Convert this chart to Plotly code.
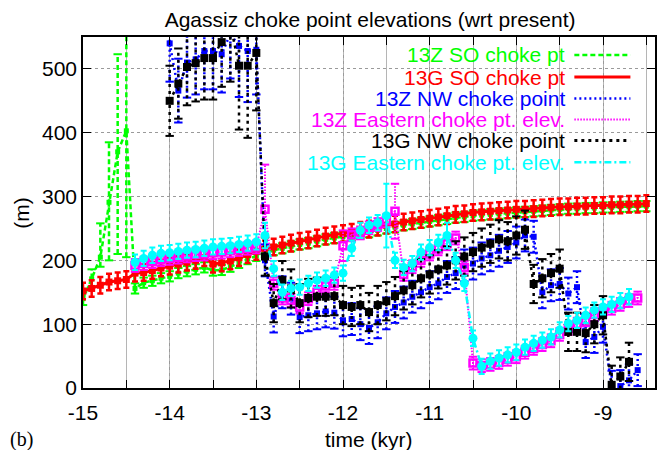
import plotly.graph_objects as go

# ---------------- data (time in kyr, elevations in m) ----------------
TIME = [-15.0, -14.9, -14.8, -14.7, -14.6, -14.5, -14.4, -14.3, -14.2, -14.1,
        -14.0, -13.9, -13.8, -13.7, -13.6, -13.5, -13.4, -13.3, -13.2, -13.1,
        -13.0, -12.9, -12.8, -12.7, -12.6, -12.5, -12.4, -12.3, -12.2, -12.1,
        -12.0, -11.9, -11.8, -11.7, -11.6, -11.5, -11.4, -11.3, -11.2, -11.1,
        -11.0, -10.9, -10.8, -10.7, -10.6, -10.5, -10.4, -10.3, -10.2, -10.1,
        -10.0, -9.9, -9.8, -9.7, -9.6, -9.5, -9.4, -9.3, -9.2, -9.1,
        -9.0, -8.9, -8.8, -8.7, -8.6, -8.5]

Z13_SO = [140, 171, 205, 291, 370, 403, 156, 165, 168, 172,
          175, 180, 183, 186, 189, 184, 185, 190, 196, 202,
          207, 213, 216, 219, 222, 225, 227, 230, 233, 235,
          237, 239, 242, 244, 247, 250, 252, 255, 257, 259,
          261, 263, 265, 267, 268, 270, 271, 272, 273, 274,
          275, 276, 277, 278, 279, 280, 281, 281, 282, 282,
          283, 283, 284, 284, 285, 285]
Z13_SO_ERR_UP = [10, 15, 53, 94, 153, 160, 8, 8, 8, 8,
                 8, 8, 8, 8, 8, 8, 8, 8, 8, 8,
                 8, 8, 8, 8, 8, 8, 8, 8, 8, 8,
                 8, 8, 8, 8, 8, 8, 8, 8, 8, 8,
                 8, 8, 8, 8, 8, 8, 8, 8, 8, 8,
                 8, 8, 8, 8, 8, 8, 8, 8, 8, 8,
                 8, 8, 8, 8, 8, 8]
Z13_SO_ERR_DN = [10, 12, 15, 91, 160, 198, 8, 8, 8, 8,
                 8, 8, 8, 8, 8, 8, 8, 8, 8, 8,
                 8, 8, 8, 8, 8, 8, 8, 8, 8, 8,
                 8, 8, 8, 8, 8, 8, 8, 8, 8, 8,
                 8, 8, 8, 8, 8, 8, 8, 8, 8, 8,
                 8, 8, 8, 8, 8, 8, 8, 8, 8, 8,
                 8, 8, 8, 8, 8, 8]

G13_SO = [152, 156, 161, 166, 168, 170, 180, 181, 184, 188,
          191, 194, 197, 200, 204, 194, 196, 199, 204, 209,
          214, 218, 221, 224, 227, 230, 232, 235, 238, 240,
          242, 244, 247, 249, 252, 255, 257, 260, 262, 264,
          266, 268, 270, 272, 273, 275, 276, 277, 278, 279,
          280, 280, 281, 282, 283, 284, 284, 285, 285, 286,
          286, 287, 287, 288, 288, 289]
G13_SO_ERR = 13

Z13_NW = [None, None, None, None, None, None, None, None, None, None,
          540, 466, 510, 515, 528, 528, 523, 555, 536, 528,
          530, 200, 112, 150, 140, 111, 114, 117, 120, 118,
          106, 108, 100, 94, 103, 117, 127, 134, 143, 150,
          158, 164, 174, 180, 192, 195, 203, 208, 215, 221,
          228, 239, 237, 150, 161, 163, 148, 158, 72, 80,
          96, 2, 3, 12, 28, None]
Z13_NW_ERR = [None, None, None, None, None, None, None, None, None, None,
              60, 50, 55, 55, 60, 60, 60, 70, 80, 80,
              70, 25, 25, 25, 25, 25, 25, 25, 25, 25,
              25, 25, 25, 25, 25, 25, 25, 25, 25, 25,
              25, 25, 25, 25, 25, 25, 25, 25, 25, 25,
              25, 25, 25, 25, 25, 25, 25, 25, 25, 25,
              25, 25, 25, 25, 25, None]

Z13_EAST = [None, None, None, None, None, None, 192, 195, 198, 201,
            203, 205, 207, 209, 210, 212, 213, 215, 217, 219,
            221, 280, 164, 141, 137, 127, 140, 150, 160, 164,
            223, 240, 243, 251, 256, 262, 277, 178, 190, 200,
            210, 218, 226, 235, 189, 39, 35, 37, 40, 45,
            49, 56, 62, 68, 74, 84, 93, 100, 107, 115,
            120, 125, 131, 137, 141, None]
Z13_EAST_ERR = [None, None, None, None, None, None, 10, 10, 10, 10,
                10, 10, 10, 10, 10, 10, 10, 10, 10, 10,
                10, 70, 10, 10, 10, 10, 10, 10, 10, 10,
                24, 10, 10, 10, 10, 10, 43, 10, 10, 10,
                10, 10, 10, 10, 10, 10, 10, 10, 10, 10,
                10, 10, 10, 10, 10, 10, 10, 10, 10, 10,
                10, 10, 10, 10, 10, None]

G13_NW = [None, None, None, None, None, None, None, None, None, None,
          450, 477, 503, 509, 517, 517, 542, 570, 505, 505,
          525, 206, 133, 169, 156, 133, 141, 143, 143, 144,
          130, 127, 130, 119, 130, 136, 144, 153, 161, 172,
          178, 186, 192, 200, 206, 213, 220, 226, 233, 230,
          239, 248, 163, 172, 180, 187, 88, 88, 86, 100,
          114, 5, 18, 41, None, None]
G13_NW_ERR = [None, None, None, None, None, None, None, None, None, None,
              55, 55, 60, 60, 65, 65, 70, 90, 100, 113,
              90, 30, 30, 30, 30, 30, 30, 30, 30, 30,
              30, 30, 30, 30, 30, 30, 30, 30, 30, 30,
              30, 30, 30, 30, 30, 30, 30, 30, 30, 30,
              30, 30, 30, 30, 30, 30, 30, 30, 30, 30,
              30, 30, 30, 30, None, None]

G13_EAST = [None, None, None, None, None, None, 197, 203, 208, 211,
            212, 214, 216, 217, 219, 221, 222, 223, 225, 227,
            229, 239, 187, 150, 156, 158, 164, 169, 172, 177,
            180, 219, 247, 255, 259, 270, 200, 189, 195, 213,
            220, 228, 239, 200, 164, 78, 34, 42, 47, 52,
            56, 64, 70, 75, 80, 91, 101, 106, 114, 122,
            127, 131, 137, 143, None, None]
G13_EAST_ERR = [None, None, None, None, None, None, 12, 12, 12, 12,
                12, 12, 12, 12, 12, 12, 12, 12, 12, 12,
                12, 20, 12, 12, 12, 12, 12, 12, 12, 12,
                12, 12, 12, 12, 12, 50, 12, 12, 12, 12,
                12, 12, 20, 12, 12, 12, 12, 12, 12, 12,
                12, 12, 12, 12, 12, 12, 12, 12, 12, 12,
                12, 12, 12, 12, None, None]

LABELS = ["13Z SO choke pt", "13G SO choke pt", "13Z NW choke point",
          "13Z Eastern choke pt. elev.", "13G NW choke point",
          "13G Eastern choke pt. elev."]
X_TICKS = [-15, -14, -13, -12, -11, -10, -9]
Y_TICKS = [0, 100, 200, 300, 400, 500]

for arr in [Z13_SO, Z13_SO_ERR_UP, Z13_SO_ERR_DN, G13_SO, Z13_NW, Z13_NW_ERR,
            Z13_EAST, Z13_EAST_ERR, G13_NW, G13_NW_ERR, G13_EAST, G13_EAST_ERR]:
    assert len(arr) == len(TIME), len(arr)

FONT = "Liberation Sans, Arial, Helvetica, sans-serif"

fig = go.Figure()


def add_dashed_series(vals, up, dn, color, dash, width, marker):
    """Gnuplot-like errorbars drawn with the series' own dash pattern."""
    ex, ey, cx, cy = [], [], [], []
    for t, v, u, d in zip(TIME, vals, up, dn):
        if v is None:
            continue
        ex += [t, t, None]
        ey += [v - d, v + u, None]
        cx += [t, t]
        cy += [v - d, v + u]
    fig.add_trace(go.Scatter(x=ex, y=ey, mode="lines", hoverinfo="skip",
                             line=dict(color=color, width=width, dash=dash),
                             showlegend=False))
    fig.add_trace(go.Scatter(x=cx, y=cy, mode="markers", hoverinfo="skip",
                             marker=dict(symbol="line-ew", size=6,
                                         line=dict(color=color, width=2)),
                             showlegend=False))
    fig.add_trace(go.Scatter(x=TIME, y=vals, mode="lines+markers",
                             connectgaps=False,
                             line=dict(color=color, width=width, dash=dash),
                             marker=marker, showlegend=False))


GREEN, RED, BLUE, MAG, BLK, CYAN = "#00ff00", "#ff0000", "#0000ff", "#ff00ff", "#000000", "#00ffff"
DASH_G = "5px,3px"
DASH_B = "2px,3px"
DASH_M = "1.5px,1.5px"
DASH_K = "3px,4px"
DASH_C = "7px,3px,2px,3px"

# 13Z SO
add_dashed_series(Z13_SO, Z13_SO_ERR_UP, Z13_SO_ERR_DN, GREEN, DASH_G, 2.5,
                  dict(symbol="square", size=5, color=GREEN))
# 13G SO (solid, normal error bars)
fig.add_trace(go.Scatter(x=TIME, y=G13_SO, mode="lines+markers",
                         line=dict(color=RED, width=3),
                         marker=dict(symbol="square", size=7, color=RED),
                         error_y=dict(type="constant", value=G13_SO_ERR, color=RED,
                                      thickness=2.5, width=3),
                         showlegend=False))
# 13Z NW
add_dashed_series(Z13_NW, Z13_NW_ERR, Z13_NW_ERR, BLUE, DASH_B, 2.5,
                  dict(symbol="square", size=6, color=BLUE))
# 13Z Eastern
add_dashed_series(Z13_EAST, Z13_EAST_ERR, Z13_EAST_ERR, MAG, DASH_M, 2,
                  dict(symbol="square-open", size=7, color=MAG, line=dict(width=2.5, color=MAG)))
# 13G NW
add_dashed_series(G13_NW, G13_NW_ERR, G13_NW_ERR, BLK, DASH_K, 2.5,
                  dict(symbol="square", size=8, color=BLK))
# 13G Eastern
fig.add_trace(go.Scatter(x=TIME, y=G13_EAST, mode="lines+markers",
                         line=dict(color=CYAN, width=2.5, dash=DASH_C),
                         marker=dict(symbol="circle", size=9, color=CYAN),
                         error_y=dict(type="data", array=G13_EAST_ERR, color=CYAN,
                                      thickness=2, width=3),
                         showlegend=False))

# ---------------- gnuplot-style key (text right, sample left) ----------------
key_colors = [GREEN, RED, BLUE, MAG, BLK, CYAN]
key_dash = [DASH_G, "solid", DASH_B, DASH_M, DASH_K, DASH_C]
key_width = [2.5, 3, 2.5, 2, 3, 2.5]
key_y = [0.949, 0.886, 0.825, 0.765, 0.705, 0.643]
for lab, col, dsh, w, yy in zip(LABELS, key_colors, key_dash, key_width, key_y):
    fig.add_annotation(xref="paper", yref="paper", x=0.847, y=yy, text=lab,
                       showarrow=False, xanchor="right", yanchor="middle",
                       font=dict(family=FONT, size=21, color=col))
    fig.add_shape(type="line", xref="paper", yref="paper", x0=0.859, x1=0.957,
                  y0=yy, y1=yy, line=dict(color=col, width=w, dash=dsh))

# axis labels
fig.add_annotation(xref="paper", yref="paper", x=-0.108, y=0.497, text="(m)",
                   textangle=-90, showarrow=False, xanchor="center", yanchor="middle",
                   font=dict(family=FONT, size=21, color="black"))
fig.add_annotation(xref="paper", yref="paper", x=0.5, y=-0.148, text="time (kyr)",
                   showarrow=False, xanchor="center", yanchor="middle",
                   font=dict(family=FONT, size=21, color="black"))
fig.add_annotation(xref="paper", yref="paper", x=-0.108, y=-0.148, text="(b)",
                   showarrow=False, xanchor="center", yanchor="middle",
                   font=dict(family="Liberation Serif, Times New Roman, serif", size=20, color="black"))

fig.update_layout(
    width=658, height=450,
    margin=dict(l=83, r=1, t=37, b=62),
    paper_bgcolor="white", plot_bgcolor="white",
    title=dict(text="Agassiz choke point elevations (wrt present)",
               x=0.5625, xanchor="center", y=0.956, yanchor="middle", yref="container",
               font=dict(family=FONT, size=21, color="black")),
    font=dict(family=FONT, size=21, color="black"),
)
fig.update_xaxes(range=[-15, -8.4], tickvals=X_TICKS, ticktext=[str(v) for v in X_TICKS],
                 ticks="inside", ticklen=8, tickcolor="black", tickwidth=1,
                 showline=True, linecolor="black", linewidth=1.5, mirror="allticks",
                 showgrid=True, gridcolor="#9a9a9a", griddash="dot", gridwidth=1,
                 zeroline=False, ticklabelstandoff=5,
                 minor=dict(dtick=0.5, tick0=-15, ticks="inside", ticklen=8,
                            tickcolor="black", showgrid=True, gridcolor="#b5b5b5",
                            griddash="solid", gridwidth=1),
                 tickfont=dict(family=FONT, size=21, color="black"))
fig.update_yaxes(range=[0, 550], tickvals=Y_TICKS,
                 ticks="inside", ticklen=8, tickcolor="black", tickwidth=1,
                 showline=True, linecolor="black", linewidth=1.5, mirror="allticks",
                 showgrid=True, gridcolor="#9a9a9a", griddash="dot", gridwidth=1,
                 zeroline=False,
                 tickfont=dict(family=FONT, size=21, color="black"))

fig.write_html("out.html")
